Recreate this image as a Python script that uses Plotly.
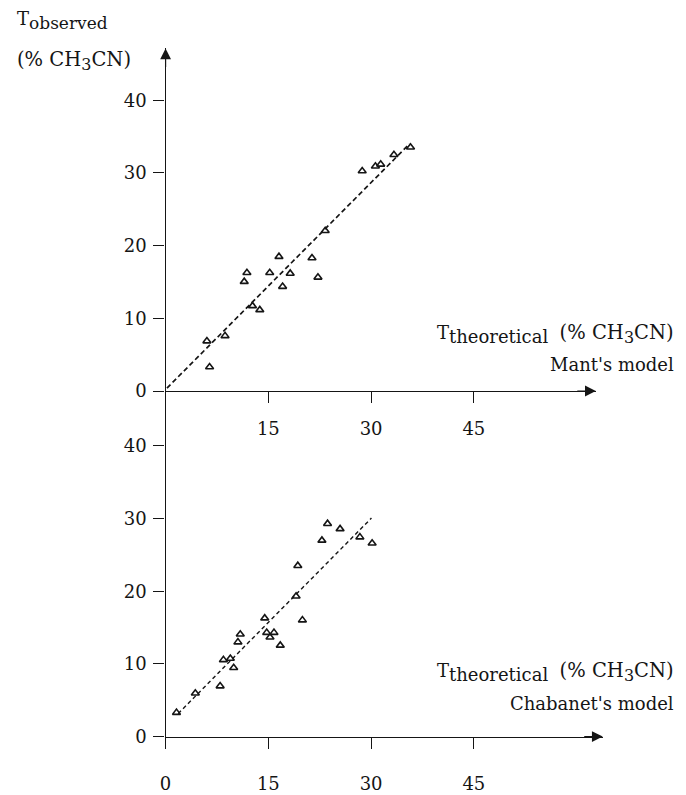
import plotly.graph_objects as go

W, H = 686, 795

# ---- data: Mant's model (top) ----
mant_x = [6.03, 6.42, 8.68, 11.48, 11.87, 12.69, 13.75, 15.20, 16.55, 17.08,
          18.19, 21.37, 22.24, 23.30, 28.70, 30.63, 31.40, 33.33, 35.75]
mant_y = [6.87, 3.30, 7.59, 15.05, 16.27, 11.71, 11.16, 16.27, 18.49, 14.37,
          16.18, 18.31, 15.64, 22.06, 30.28, 30.92, 31.19, 32.50, 33.54]
mant_fit_x = [0.2, 35.6]
mant_fit_y = [0.4, 34.0]

# ---- data: Chabanet's model (bottom) ----
chab_x = [1.59, 4.34, 7.96, 8.44, 9.45, 9.94, 10.56, 10.90, 14.47, 14.76, 15.24,
          15.82, 16.74, 19.05, 19.30, 19.97, 22.82, 23.64, 25.47, 28.36, 30.15]
chab_y = [3.30, 5.96, 6.95, 10.56, 10.74, 9.48, 13.00, 14.09, 16.30, 14.31, 13.68,
          14.31, 12.55, 19.32, 23.52, 16.03, 27.00, 29.30, 28.58, 27.45, 26.60]
chab_fit_x = [1.83, 30.05]
chab_fit_y = [3.16, 30.07]

y_ticks = [0, 10, 20, 30, 40]
x_ticks_top = [15, 30, 45]
x_ticks_bottom = [0, 15, 30, 45]

FONT = "DejaVu Serif"
INK = "#151515"

def px_x(p):
    return p / W

def px_y(p):
    return (H - p) / H

fig = go.Figure()

marker = dict(symbol="triangle-up-open", size=7, color=INK, line=dict(width=1.6, color=INK))

fig.add_trace(go.Scatter(x=mant_fit_x, y=mant_fit_y, mode="lines",
                         line=dict(color=INK, width=1.7, dash="5px,3px"),
                         xaxis="x", yaxis="y", showlegend=False, hoverinfo="skip"))
fig.add_trace(go.Scatter(x=mant_x, y=mant_y, mode="markers", marker=marker,
                         xaxis="x", yaxis="y", showlegend=False))
fig.add_trace(go.Scatter(x=chab_fit_x, y=chab_fit_y, mode="lines",
                         line=dict(color=INK, width=1.4, dash="4px,3px"),
                         xaxis="x2", yaxis="y2", showlegend=False, hoverinfo="skip"))
fig.add_trace(go.Scatter(x=chab_x, y=chab_y, mode="markers", marker=marker,
                         xaxis="x2", yaxis="y2", showlegend=False))
# invisible carriers so the label-only overlay axes get drawn
fig.add_trace(go.Scatter(x=mant_x, y=mant_y, mode="markers", marker=dict(opacity=0),
                         xaxis="x3", yaxis="y3", showlegend=False, hoverinfo="skip"))
fig.add_trace(go.Scatter(x=chab_x, y=chab_y, mode="markers", marker=dict(opacity=0),
                         xaxis="x4", yaxis="y4", showlegend=False, hoverinfo="skip"))

px_per_x = 6.911
px_per_y = 7.36
x0 = 161.0
top_x_end = 595.0
bot_x_end = 602.0
top_y0 = 396.0
top_y_end = 49.0
bot_y0 = 746.0
bot_y_end = 397.0

top_xr = [0, (top_x_end - x0) / px_per_x]
bot_xr = [0, (bot_x_end - x0) / px_per_x]
top_yr = [0, (top_y0 - top_y_end) / px_per_y]
bot_yr = [0, (bot_y0 - bot_y_end) / px_per_y]

tickfont = dict(family=FONT, size=18, color=INK)
line_axis = dict(showgrid=False, zeroline=False, showline=True, linecolor=INK, linewidth=1.2,
                 ticks="outside", tickcolor=INK, tickwidth=1.2, ticklen=11,
                 showticklabels=False, fixedrange=True)
label_axis = dict(showgrid=False, zeroline=False, showline=False, ticks="",
                  tickfont=tickfont, fixedrange=True, anchor="free")

fig.update_layout(
    width=W, height=H,
    margin=dict(l=0, r=0, t=0, b=0),
    paper_bgcolor="white", plot_bgcolor="white",
    xaxis=dict(domain=[px_x(x0), px_x(top_x_end)], range=top_xr,
               anchor="y", tickvals=x_ticks_top, **line_axis),
    yaxis=dict(domain=[px_y(top_y0), px_y(top_y_end)], range=top_yr,
               anchor="x", tickvals=y_ticks, **line_axis),
    xaxis2=dict(domain=[px_x(x0), px_x(bot_x_end)], range=bot_xr,
                anchor="y2", tickvals=x_ticks_bottom, **line_axis),
    yaxis2=dict(domain=[px_y(bot_y0), px_y(bot_y_end)], range=bot_yr,
                anchor="x2", tickvals=y_ticks, **line_axis),
    # label-only overlay axes, placed freely so labels sit away from the tick marks
    xaxis3=dict(overlaying="x", range=top_xr, side="bottom", position=px_y(421),
                tickvals=x_ticks_top, **label_axis),
    yaxis3=dict(overlaying="y", range=top_yr, side="left", position=px_x(142),
                tickvals=y_ticks, **label_axis),
    xaxis4=dict(overlaying="x2", range=bot_xr, side="bottom", position=px_y(781),
                tickvals=x_ticks_bottom, **label_axis),
    yaxis4=dict(overlaying="y2", range=bot_yr, side="left", position=px_x(142),
                tickvals=y_ticks, **label_axis),
)

arrow = dict(text="", showarrow=True, arrowhead=2, arrowsize=1.8, arrowwidth=1.2,
             arrowcolor=INK, standoff=0)
fig.add_annotation(x=top_xr[1], y=0, xref="x", yref="y", ax=-20, ay=0, **arrow)
fig.add_annotation(x=bot_xr[1], y=0, xref="x2", yref="y2", ax=-20, ay=0, **arrow)
fig.add_annotation(x=0, y=top_yr[1], xref="x", yref="y", ax=0, ay=20, **arrow)

labfont = dict(family=FONT, size=18, color=INK)
def label(text, xpx, ypx, xanchor="left", yanchor="middle"):
    fig.add_annotation(text=text, x=px_x(xpx), y=px_y(ypx), xref="paper", yref="paper",
                       xanchor=xanchor, yanchor=yanchor, showarrow=False, font=labfont,
                       align="right", borderpad=0)

def sub(s, size):
    return "<sub><span style='font-size:%dpx'>%s</span></sub>" % (size, s)

unit = "<span style='font-size:19.5px'>(% CH" + sub("3", 16) + "CN)</span>"

label("T" + sub("observed", 17), 10, 21)
label(unit, 10, 62)
label("T" + sub("theoretical", 18) + "  " + unit, 675, 338, xanchor="right")
label("Mant's model", 675, 369, xanchor="right")
label("T" + sub("theoretical", 18) + "  " + unit, 675, 681, xanchor="right")
label("Chabanet's model", 675, 712, xanchor="right")

fig.write_html("out.html")
